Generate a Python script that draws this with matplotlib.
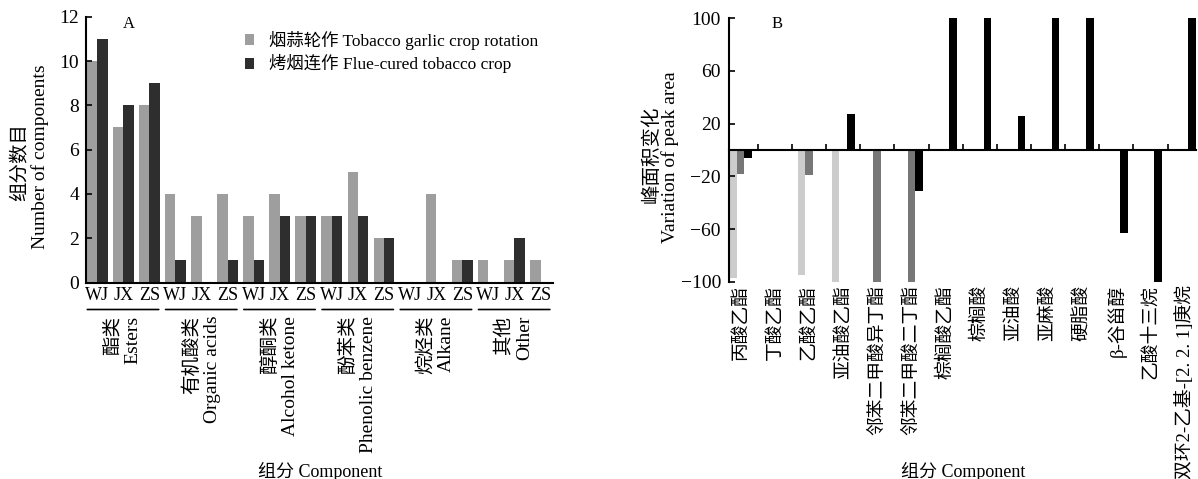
import matplotlib
matplotlib.use("Agg")
import matplotlib.pyplot as plt
import numpy as np

plt.rcParams["font.family"] = ["Liberation Serif", "Noto Sans CJK SC"]
plt.rcParams["axes.unicode_minus"] = True

# panel A: number of components
sites = ["WJ", "JX", "ZS"]
classes_cn = ["酯类", "有机酸类", "醇酮类", "酚苯类", "烷烃类", "其他"]
classes_en = ["Esters", "Organic acids", "Alcohol ketone", "Phenolic benzene", "Alkane", "Other"]
rotation_counts = [10, 7, 8, 4, 3, 4, 3, 4, 3, 3, 5, 2, 0, 4, 1, 1, 1, 1]
continuous_counts = [11, 8, 9, 1, 0, 1, 1, 3, 3, 3, 3, 2, 0, 0, 1, 0, 2, 0]

# panel B: variation of peak area
compounds = ["丙酸乙酯", "丁酸乙酯", "乙酸乙酯", "亚油酸乙酯", "邻苯二甲酸异丁酯",
             "邻苯二甲酸二丁酯", "棕榈酸乙酯", "棕榈酸", "亚油酸", "亚麻酸", "硬脂酸",
             "β-谷甾醇", "乙酸十三烷", "双环2-乙基-[2. 2. 1]庚烷"]
wj_change = [-97, 0, -95, -100, 0, 0, 0, 0, 0, 0, 0, 0, 0, 0]
jx_change = [-18, 0, -19, 0, -100, -100, 0, 0, 0, 0, 0, 0, 0, 0]
zs_change = [-6, 0, 0, 27, 0, -31, 100, 100, 26, 100, 100, -63, -100, 100]

W, H = 1198, 479
fig = plt.figure(figsize=(W / 100, H / 100), dpi=100)


def px(x0, y0, x1, y1):
    return [x0 / W, 1 - y1 / H, (x1 - x0) / W, (y1 - y0) / H]


# ---------------- A ----------------
ax = fig.add_axes(px(86, 16.7, 553.3, 282.5))
x = np.arange(len(rotation_counts))
bw = 0.4
ax.bar(x - bw / 2, rotation_counts, bw, color="#9e9e9e", label="烟蒜轮作 Tobacco garlic crop rotation")
ax.bar(x + bw / 2, continuous_counts, bw, color="#2e2e2e", label="烤烟连作 Flue-cured tobacco crop")
ax.set_xlim(-0.43, 17.49)
ax.set_ylim(0, 12)
ax.set_yticks(range(0, 13, 2))
ax.set_xticks(x)
ax.set_xticklabels(sites * len(classes_cn), fontsize=13)
ax.tick_params(axis="x", length=0, pad=3)
ax.tick_params(axis="y", direction="in", length=4, width=1.2, labelsize=14, pad=5)
for s in ["top", "right"]:
    ax.spines[s].set_visible(False)
for s in ["left", "bottom"]:
    ax.spines[s].set_linewidth(1.5)

# group brackets and class names under the site labels
for k in range(len(classes_cn)):
    ax.annotate("", xy=(3 * k - 0.38, -27 / 265.8), xytext=(3 * k + 2.36, -27 / 265.8),
                xycoords=("data", "axes fraction"), textcoords=("data", "axes fraction"),
                arrowprops=dict(arrowstyle="-", lw=1.2, color="black", shrinkA=0, shrinkB=0),
                annotation_clip=False)
    ax.annotate(classes_cn[k] + "\n" + classes_en[k], xy=(3 * k + 1, 0),
                xycoords=("data", "axes fraction"), xytext=(0, -24), textcoords="offset points",
                rotation=90, ha="center", va="top", multialignment="right", fontsize=14,
                annotation_clip=False)

ax.legend(loc="upper left", bbox_to_anchor=((245 - 86) / 467.3, (282.5 - 31) / 265.8),
          frameon=False, fontsize=12.5, borderpad=0, borderaxespad=0,
          handlelength=0.5, handleheight=0.6, handletextpad=0.9, labelspacing=0.25)

fig.text(128.8 / W, 1 - 24 / H, "A", fontsize=12, ha="center", va="center")
fig.text(20.7 / W, 1 - 162 / H, "组分数目", fontsize=14, rotation=90, ha="center", va="center")
fig.text(40 / W, 1 - 157 / H, "Number of components", fontsize=14, rotation=90, ha="center", va="center")
fig.text(320 / W, 1 - 471 / H, "组分 Component", fontsize=13, ha="center", va="center")

# ---------------- B ----------------
bx = fig.add_axes(px(729.3, 18.3, 1196, 281.7))
xb = np.arange(len(compounds))
w = 1 / 4.5
bx.bar(xb - w, wj_change, w, color="#cccccc")
bx.bar(xb, jx_change, w, color="#777777")
bx.bar(xb + w, zs_change, w, color="#000000")
bx.set_xlim(-1 / 3, len(compounds) - 1 + 1 / 3)
bx.set_ylim(-100, 100)
bx.set_yticks([-100, -60, -20, 20, 60, 100])
bx.spines["bottom"].set_position(("data", 0))
for s in ["top", "right"]:
    bx.spines[s].set_visible(False)
for s in ["left", "bottom"]:
    bx.spines[s].set_linewidth(1.5)
bx.set_xticks(xb[:-1] + 0.5)
bx.set_xticklabels([])
bx.tick_params(axis="x", direction="in", length=4, width=1.2)
bx.tick_params(axis="y", direction="in", length=4, width=1.2, labelsize=14, pad=6)
for i, name in enumerate(compounds):
    bx.annotate(name, xy=(i, 0), xycoords=("data", "axes fraction"), xytext=(0, -2.5),
                textcoords="offset points", rotation=90, ha="center", va="top",
                fontsize=13.5, annotation_clip=False)

fig.text(776.7 / W, 1 - 24 / H, "B", fontsize=12, ha="center", va="center")
fig.text(651.7 / W, 1 - 154 / H, "峰面积变化", fontsize=14, rotation=90, ha="center", va="center")
fig.text(670 / W, 1 - 157.5 / H, "Variation of peak area", fontsize=14, rotation=90, ha="center", va="center")
fig.text(963 / W, 1 - 471 / H, "组分 Component", fontsize=13, ha="center", va="center")

fig.savefig("out.png", dpi=100)
